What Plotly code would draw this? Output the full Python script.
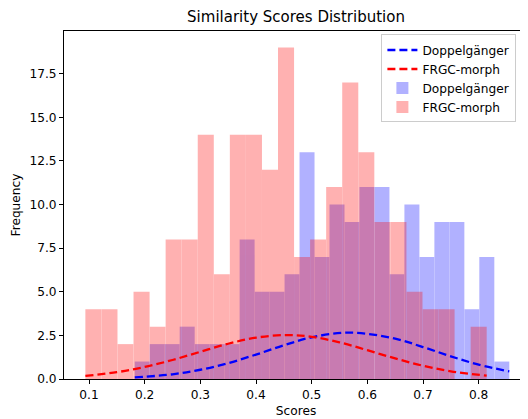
import numpy as np
import plotly.graph_objects as go

# Histogram counts (25 bins each)
dop_counts = [1, 2, 2, 3, 2, 2, 2, 8, 5, 5, 6, 13, 7, 10, 9, 11, 11, 6, 10, 7, 9, 9, 4, 7, 1]
frgc_counts = [4, 4, 2, 5, 3, 8, 8, 14, 6, 14, 14, 12, 19, 7, 8, 11, 17, 13, 9, 9, 5, 4, 4, 0, 3]
dop_range = (0.1822, 0.855)
frgc_range = (0.0935, 0.8144)

# Fitted normal curves
dop_curve_x = [0.1822, 0.25, 0.3, 0.35, 0.4, 0.45, 0.5, 0.57, 0.65, 0.7, 0.75, 0.8, 0.855]
dop_curve_y = [0.09, 0.27, 0.53, 0.91, 1.40, 1.93, 2.39, 2.66, 2.31, 1.83, 1.30, 0.82, 0.44]
frgc_curve_x = [0.0935, 0.15, 0.2, 0.25, 0.3, 0.35, 0.4, 0.455, 0.5, 0.55, 0.6, 0.65, 0.7, 0.75, 0.8144]
frgc_curve_y = [0.18, 0.39, 0.69, 1.09, 1.56, 2.02, 2.37, 2.52, 2.42, 2.10, 1.65, 1.18, 0.76, 0.44, 0.19]

x_ticks = [0.1, 0.2, 0.3, 0.4, 0.5, 0.6, 0.7, 0.8]
y_ticks = [0, 2.5, 5, 7.5, 10, 12.5, 15, 17.5]


def bins(rng, n):
    edges = np.linspace(rng[0], rng[1], n + 1)
    return (edges[:-1] + edges[1:]) / 2, edges[1] - edges[0]


dop_c, dop_w = bins(dop_range, len(dop_counts))
frgc_c, frgc_w = bins(frgc_range, len(frgc_counts))

W, H = 520, 411
FONT = "DejaVu Sans"
FS = 12.2
fig = go.Figure()
fig.add_trace(go.Scatter(x=dop_curve_x, y=dop_curve_y, mode="lines", name="Doppelgänger",
                         line=dict(color="blue", width=2.3, dash="8px,4px", shape="spline")))
fig.add_trace(go.Scatter(x=frgc_curve_x, y=frgc_curve_y, mode="lines", name="FRGC-morph",
                         line=dict(color="red", width=2.3, dash="8px,4px", shape="spline")))
fig.add_trace(go.Bar(x=dop_c, y=dop_counts, width=dop_w, name="Doppelgänger",
                     marker=dict(color="blue", line=dict(width=0)), opacity=0.3))
fig.add_trace(go.Bar(x=frgc_c, y=frgc_counts, width=frgc_w, name="FRGC-morph",
                     marker=dict(color="red", line=dict(width=0)), opacity=0.3))

fig.update_layout(
    width=W, height=H,
    margin=dict(l=56, r=0, t=23, b=40, autoexpand=False),
    barmode="overlay",
    paper_bgcolor="white", plot_bgcolor="white",
    font=dict(family=FONT, size=FS, color="black"),
    title=dict(text="Similarity Scores Distribution", x=0.5, xref="paper", xanchor="center",
               y=1 - 8.5 / H, yref="container", yanchor="middle",
               font=dict(family=FONT, size=15, color="black")),
    showlegend=True,
    legend=dict(x=0.975, xanchor="right", y=0.99, yanchor="top",
                bgcolor="rgba(255,255,255,0.8)", bordercolor="#cccccc", borderwidth=1,
                font=dict(family=FONT, size=FS, color="black"),
                tracegroupgap=0, itemwidth=30),
)
fig.update_xaxes(range=[0.0551, 0.8886], tickvals=x_ticks, ticktext=[f"{v:.1f}" for v in x_ticks],
                 showgrid=False, zeroline=False, showline=True, linecolor="black", linewidth=1,
                 mirror=True, ticks="outside", ticklen=4, tickcolor="black",
                 tickfont=dict(family=FONT, size=FS),
                 title=dict(text="Scores", standoff=5, font=dict(family=FONT, size=FS)))
fig.update_yaxes(range=[0, 19.95], tickvals=y_ticks, ticktext=[f"{v:.1f}" for v in y_ticks],
                 showgrid=False, zeroline=False, showline=True, linecolor="black", linewidth=1,
                 mirror=False, ticks="outside", ticklen=4, tickcolor="black",
                 tickfont=dict(family=FONT, size=FS),
                 title=dict(text="Frequency", standoff=6, font=dict(family=FONT, size=FS)))

fig.write_html("out.html")
